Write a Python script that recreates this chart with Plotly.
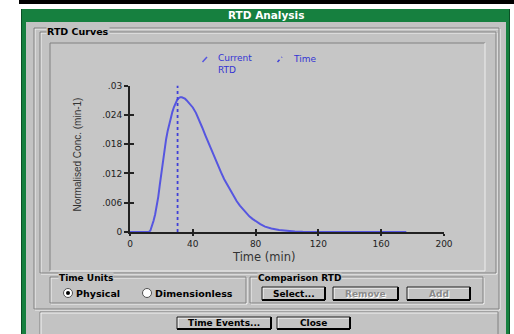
import plotly.graph_objects as go

W, H = 514, 334

# ---------------- data ----------------
time_min = [0, 5, 10, 12, 13, 14, 15, 16, 17, 18, 19, 20, 21, 22, 23, 24, 25, 26, 27, 28,
            29, 30, 31, 32, 33, 34, 35, 36, 38, 40, 42, 44, 46, 48, 50, 52, 54, 56, 58, 60,
            62, 64, 66, 68, 70, 72, 74, 76, 78, 80, 83, 86, 90, 95, 100, 105, 110, 120, 140,
            160, 176]
current_rtd = [0, 0, 0, 0, 0.0003, 0.0012, 0.0023, 0.0036, 0.0052, 0.0072, 0.0097, 0.0123,
               0.0147, 0.0170, 0.0190, 0.0207, 0.0222, 0.0235, 0.0246, 0.0256, 0.0264, 0.0270,
               0.0274, 0.0276, 0.0276, 0.0275, 0.0273, 0.0270, 0.0263, 0.0255, 0.0244, 0.0230,
               0.0214, 0.0198, 0.0182, 0.0166, 0.0152, 0.0137, 0.0122, 0.0108, 0.0096, 0.0084,
               0.0073, 0.0063, 0.0054, 0.0046, 0.0039, 0.0032, 0.0027, 0.0022, 0.0016, 0.0011,
               0.0007, 0.0004, 0.0002, 0.0001, 0.00004, 0, 0, 0, 0]
time_marker_x = [30.3, 30.3]
time_marker_y = [0, 0.03]
x_tick_vals = [0, 40, 80, 120, 160, 200]
x_tick_text = ["0", "40", "80", "120", "160", "200"]
y_tick_vals = [0, 0.006, 0.012, 0.018, 0.024, 0.03]
y_tick_text = ["0", ".006", ".012", ".018", ".024", ".03"]

# ---------------- styling helpers ----------------
GRAY = "#c3c3c3"
DARK = "#808080"
GREEN = "#16803f"
BLUE_LINE = "#5656e0"
BLUE_DOT = "#4040d8"
BLUE_TXT = "#3434d4"
FONT = "DejaVu Sans, Verdana, sans-serif"

shapes = []
annotations = []


def clampy(y):
    return min(max(y, 0), H)


def rect(x0, y0, x1, y1, fill=None, line=None, lw=1):
    y0, y1 = clampy(y0), clampy(y1)
    shapes.append(dict(type="rect", xref="paper", yref="paper",
                       x0=x0 / W, x1=x1 / W, y0=1 - y1 / H, y1=1 - y0 / H,
                       fillcolor=fill or "rgba(0,0,0,0)",
                       line=dict(color=line or "rgba(0,0,0,0)", width=lw if line else 0),
                       layer="below"))


def seg(x0, y0, x1, y1, color, w=1, dash="solid", layer="below"):
    y0, y1 = clampy(y0), clampy(y1)
    shapes.append(dict(type="line", xref="paper", yref="paper",
                       x0=x0 / W, x1=x1 / W, y0=1 - y0 / H, y1=1 - y1 / H,
                       line=dict(color=color, width=w, dash=dash), layer=layer))


def circle(cx, cy, r, fill, line=None, lw=1):
    shapes.append(dict(type="circle", xref="paper", yref="paper",
                       x0=(cx - r) / W, x1=(cx + r) / W, y0=1 - (cy + r) / H, y1=1 - (cy - r) / H,
                       fillcolor=fill, line=dict(color=line or "rgba(0,0,0,0)", width=lw if line else 0),
                       layer="below"))


def text(x, y, s, size, color="#000000", bold=False, anchor="center", bg=None, angle=0,
         family=FONT, align="center"):
    if bold:
        s = "<b>" + s + "</b>"
    annotations.append(dict(x=x / W, y=1 - y / H, xref="paper", yref="paper", text=s,
                            showarrow=False, xanchor=anchor, yanchor="middle", textangle=angle,
                            font=dict(family=family, size=size, color=color), align=align,
                            bgcolor=bg, borderpad=0))


def etched(x0, y0, x1, y1):
    rect(x0 + 1, y0 + 1, x1 + 1, y1 + 1, line="#f4f4f4")
    rect(x0, y0, x1, y1, line=DARK)


def button(x0, y0, x1, y1, label, enabled=True):
    rect(x0, y0, x1, y1, fill=GRAY)
    seg(x0 + 1, y0 + 1, x1 - 1, y0 + 1, "#ffffff")
    seg(x0 + 1, y0 + 1, x0 + 1, y1 - 1, "#ffffff")
    seg(x0, y1, x1, y1, "#000000", 2)
    seg(x1, y0, x1, y1, "#000000", 2)
    seg(x0, y0, x1, y0, "#202020", 1)
    seg(x0, y0, x0, y1, "#202020", 1)
    cx, cy = (x0 + x1) / 2, (y0 + y1) / 2
    if enabled:
        text(cx, cy, label, 9, "#000000", bold=True)
    else:
        text(cx + 1, cy + 1, label, 9, "#ffffff", bold=True)
        text(cx, cy, label, 9, "#8a8a8a", bold=True)


# ---------------- window chrome ----------------
rect(19, 0, 514, 4, fill="#000000")
rect(21, 9, 510, 334, fill=GREEN)
seg(21.5, 9, 21.5, 334, "#0b4f26", 1)
seg(509.5, 9, 509.5, 334, "#0b4f26", 1)
rect(26, 22, 506, 334, fill=GRAY)
text(266, 15.5, "RTD Analysis", 10.5, "#ffffff", bold=True)

# outer frame, RTD Curves group and plot panel
etched(34, 28, 499, 309)
etched(40, 32, 496, 273)
rect(50, 43, 485, 271, fill="#c6c6c6")
seg(50, 43, 485, 43, DARK)
seg(50, 43, 50, 271, DARK)
seg(50, 271, 485, 271, "#eeeeee")
seg(485, 43, 485, 271, "#eeeeee")
text(46, 32, "RTD Curves", 9.5, "#000000", bold=True, anchor="left", bg=GRAY)

# Time units group
etched(50, 277, 246, 303)
text(58, 278, "Time Units", 9, "#000000", bold=True, anchor="left", bg=GRAY)
circle(68, 293, 4.5, "#ffffff", "#505050")
circle(68, 293, 2, "#000000")
text(75, 293, "Physical", 9.5, "#000000", bold=True, anchor="left")
circle(147, 293, 4.5, "#ffffff", "#505050")
text(154, 293, "Dimensionless", 9.5, "#000000", bold=True, anchor="left")

# Comparison RTD group
etched(250, 277, 483, 303)
text(257, 278, "Comparison RTD", 9, "#000000", bold=True, anchor="left", bg=GRAY)
button(262, 287, 325, 300, "Select...", True)
button(333, 287, 398, 300, "Remove", False)
button(407, 287, 470, 300, "Add", False)

# bottom button panel
seg(40, 312, 498, 312, DARK)
seg(40, 313, 498, 313, "#f4f4f4")
seg(40, 312, 40, 334, DARK)
seg(41, 313, 41, 334, "#f4f4f4")
seg(498, 312, 498, 334, DARK)
button(177, 317, 271, 329, "Time Events...", True)
button(277, 317, 350, 329, "Close", True)

# ---------------- legend (drawn as labels) ----------------
seg(202.5, 62, 207, 57, BLUE_LINE, 1.5, layer="above")
text(216.5, 64.5, "Current<br>RTD", 9, BLUE_TXT, anchor="left", align="left")
seg(277.5, 62, 282, 57, BLUE_DOT, 1.5, dash="dot", layer="above")
text(291.5, 59, "Time", 9, BLUE_TXT, anchor="left")

# axis titles
text(263, 257, "Time (min)", 11.5, "#333333")
text(77.5, 155, "Normalised Conc. (min-1)", 10, "#333333", angle=-90,
     family="Liberation Sans, Arial, sans-serif")

# ---------------- figure ----------------
fig = go.Figure()
fig.add_trace(go.Scatter(x=time_min, y=current_rtd, mode="lines", name="Current RTD",
                         line=dict(color=BLUE_LINE, width=2), xaxis="x", yaxis="y"))
fig.add_trace(go.Scatter(x=time_marker_x, y=time_marker_y, mode="lines", name="Time",
                         line=dict(color=BLUE_DOT, width=1.8, dash="dot"), xaxis="x2", yaxis="y2"))

xdom = [130 / W, 444 / W]
ydom = [1 - 232 / H, 1 - 85.5 / H]
tickfont = dict(family=FONT, size=9, color="#222222")

fig.update_layout(
    width=W, height=H, margin=dict(l=0, r=0, t=0, b=0, pad=0, autoexpand=False),
    paper_bgcolor="#ffffff", plot_bgcolor="rgba(0,0,0,0)",
    showlegend=False,
    xaxis=dict(domain=xdom, range=[0, 200], anchor="y", tickmode="array",
               tickvals=x_tick_vals, ticktext=x_tick_text, ticks="outside", ticklen=2,
               tickwidth=2, tickcolor="#222222", showline=True, linecolor="#222222",
               linewidth=2, showgrid=False, zeroline=False, tickfont=tickfont,
               layer="below traces", fixedrange=True, automargin=False),
    yaxis=dict(domain=ydom, range=[0, 0.03], anchor="x", tickmode="array",
               tickvals=y_tick_vals, ticktext=y_tick_text, ticks="outside", ticklen=4,
               tickwidth=2, tickcolor="#222222", showline=True, linecolor="#222222",
               linewidth=2, showgrid=False, zeroline=False, tickfont=tickfont,
               layer="below traces", fixedrange=True, automargin=False),
    xaxis2=dict(domain=xdom, range=[0, 200], anchor="y2", overlaying="x", tickmode="array",
                tickvals=x_tick_vals[1:], ticks="inside", ticklen=3, tickwidth=2,
                tickcolor="#222222", showticklabels=False, showline=False, showgrid=False,
                zeroline=False, fixedrange=True, automargin=False),
    yaxis2=dict(domain=ydom, range=[0, 0.03], anchor="x2", overlaying="y", tickmode="array",
                tickvals=y_tick_vals[1:], ticks="inside", ticklen=4, tickwidth=2,
                tickcolor="#222222", showticklabels=False, showline=False, showgrid=False,
                zeroline=False, fixedrange=True, automargin=False),
    shapes=shapes, annotations=annotations,
)

fig.write_html("out.html", config={"displayModeBar": False},
               post_script="document.body.style.margin='0';document.body.style.overflow='hidden';")
